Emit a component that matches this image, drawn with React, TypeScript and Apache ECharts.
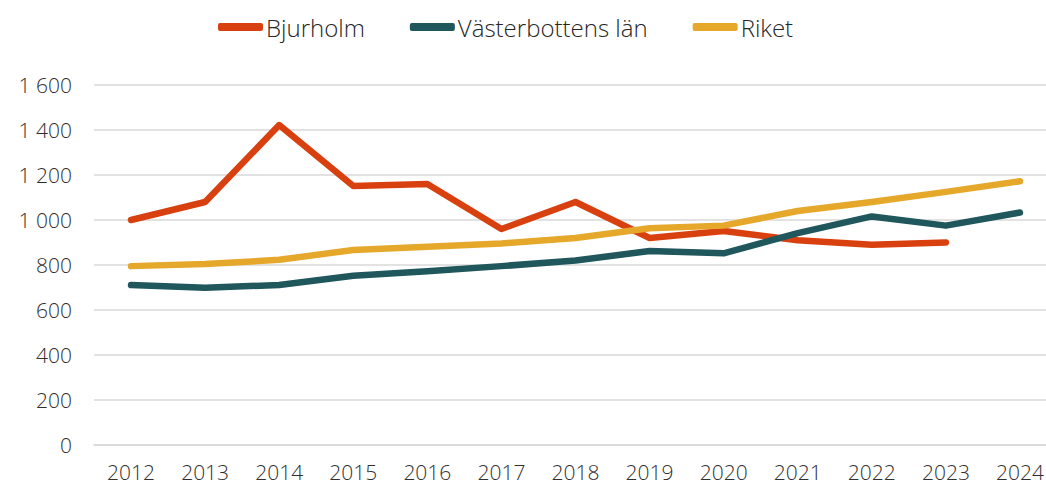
import React, { useEffect, useRef } from "react";
import * as echarts from "echarts";

const years = ["2012", "2013", "2014", "2015", "2016", "2017", "2018", "2019", "2020", "2021", "2022", "2023", "2024"];
const bjurholm = [1000, 1080, 1422, 1151, 1160, 960, 1080, 920, 951, 910, 890, 900, null];
const vasterbotten = [711, 699, 711, 752, 772, 795, 820, 862, 852, 942, 1016, 975, 1033];
const riket = [795, 804, 823, 867, 881, 896, 920, 963, 975, 1040, 1080, 1125, 1172];
const yTicks = [0, 200, 400, 600, 800, 1000, 1200, 1400, 1600];

const FONT = "'Open Sans', Lato, sans-serif";

export default function App() {
  const ref = useRef<HTMLDivElement>(null);
  useEffect(() => {
    if (!ref.current) return;
    const chart = echarts.init(ref.current, undefined, { renderer: "svg" });
    const mk = (name: string, data: (number | null)[], color: string) => ({
      name,
      type: "line",
      data,
      symbol: "none",
      lineStyle: { color, width: 6.5, cap: "round", join: "round" },
      itemStyle: { color },
      z: 3,
    });
    chart.setOption({
      animation: false,
      textStyle: { fontFamily: FONT },
      legend: {
        top: 10,
        left: 213,
        icon: "roundRect",
        itemWidth: 45,
        itemHeight: 8,
        itemGap: 45,
        textStyle: { fontSize: 24, color: "#262626", fontFamily: FONT, fontWeight: 300, padding: [0, 0, 0, -2] },
        data: ["Bjurholm", "Västerbottens län", "Riket"],
      },
      grid: { left: 94, right: 0, top: 85, bottom: 41, containLabel: false },
      xAxis: {
        type: "category",
        data: years,
        boundaryGap: true,
        axisLine: { show: true, lineStyle: { color: "#d9d9d9", width: 1.5 } },
        axisTick: { show: false },
        axisLabel: { fontSize: 21, color: "#303030", margin: 16, fontFamily: FONT, fontWeight: 300 },
      },
      yAxis: {
        type: "value",
        min: yTicks[0],
        max: yTicks[yTicks.length - 1],
        interval: 200,
        axisLine: { show: false },
        axisTick: { show: false },
        splitLine: { lineStyle: { color: "#d9d9d9", width: 1.5 } },
        axisLabel: {
          fontSize: 21,
          color: "#303030",
          margin: 22,
          fontFamily: FONT,
          fontWeight: 300,
          formatter: (v: number) => String(v).replace(/\B(?=(\d{3})+(?!\d))/g, " "),
        },
      },
      series: [
        mk("Bjurholm", bjurholm, "#D9400F"),
        mk("Västerbottens län", vasterbotten, "#1F575C"),
        mk("Riket", riket, "#E5A82B"),
      ],
    });
    return () => chart.dispose();
  }, []);
  return (
    <div style={{ width: 1046, height: 486, position: "absolute", left: 0, top: 0, overflow: "hidden" }}>
      <div ref={ref} style={{ width: 1057, height: 486 }} />
    </div>
  );
}
